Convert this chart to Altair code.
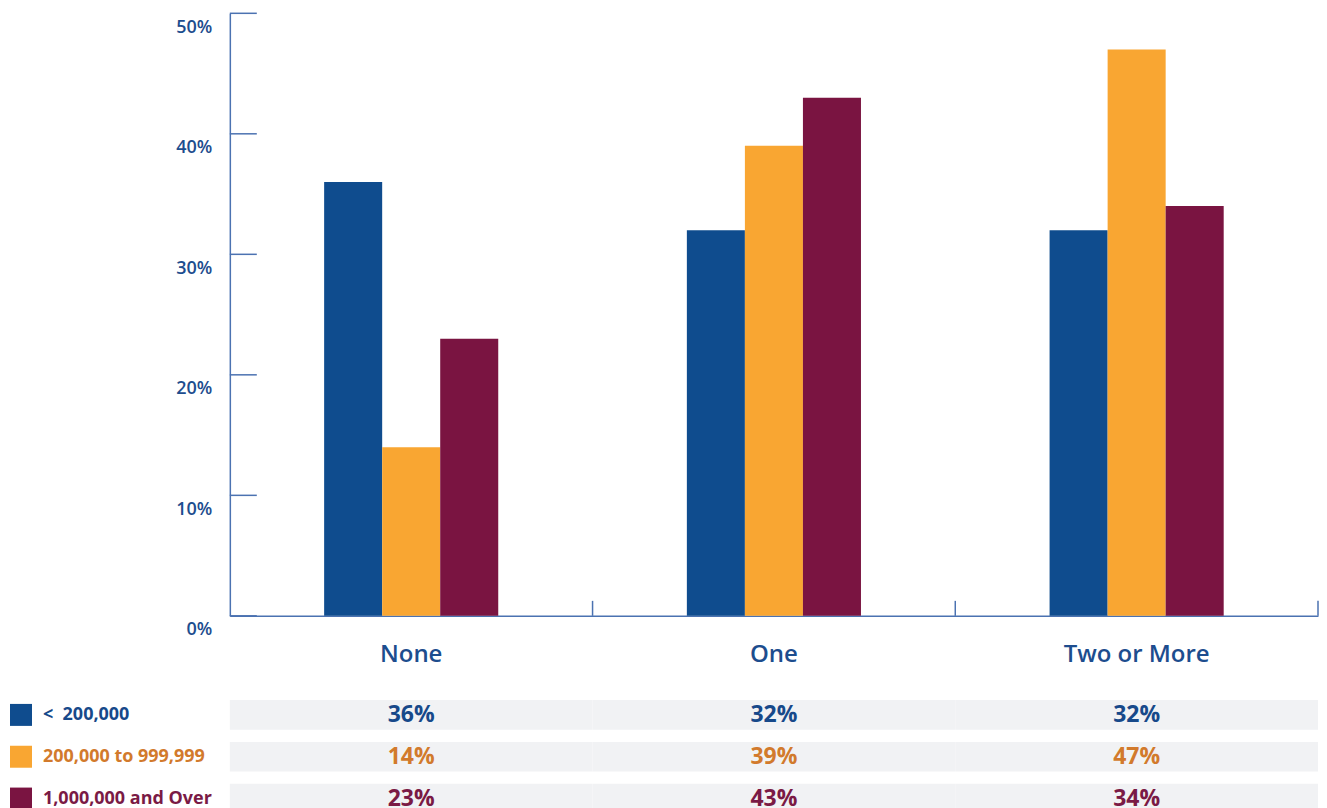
import altair as alt
import pandas as pd

# ---- data ----
categories = ["None", "One", "Two or More"]
series = ["<\u00a0 200,000", "200,000 to 999,999", "1,000,000 and Over"]
values_lt200k = [0.36, 0.32, 0.32]
values_200k_1m = [0.14, 0.39, 0.47]
values_1m_plus = [0.23, 0.43, 0.34]
y_ticks = [0, 0.1, 0.2, 0.3, 0.4, 0.5]

bar_colors = ["#0f4c8e", "#f9a632", "#7a1441"]
text_colors = ["#17498a", "#d27a2c", "#7a1a45"]
axis_color = "#4b72b1"
label_color = "#1d4d8e"
FONT = "Open Sans"

rows = []
for s, vals in zip(series, [values_lt200k, values_200k_1m, values_1m_plus]):
    for c, v in zip(categories, vals):
        rows.append({"category": c, "series": s, "value": v})
df = pd.DataFrame(rows)
ticks_df = pd.DataFrame({"value": y_ticks})
cat_df = pd.DataFrame({"category": categories})
legend_df = pd.DataFrame({"series": series})

W, H = 1089, 603

x_enc = alt.X(
    "category:N", sort=categories,
    scale=alt.Scale(paddingInner=0.52, paddingOuter=0.26),
    axis=alt.Axis(title=None, labelAngle=0, ticks=False, tickSize=0,
                  labelPadding=27, labelFontSize=24, labelFontWeight=600,
                  labelColor=label_color, domainColor=axis_color,
                  domainWidth=1.5, grid=False),
)
y_scale = alt.Scale(domain=[0, 0.5], nice=False)

bars = alt.Chart(df).mark_bar().encode(
    x=x_enc,
    xOffset=alt.XOffset("series:N", sort=series,
                        scale=alt.Scale(paddingInner=0, paddingOuter=0)),
    y=alt.Y("value:Q", scale=y_scale,
            axis=alt.Axis(title=None, values=y_ticks, format="%", ticks=False,
                          tickSize=0, grid=False, labelPadding=18,
                          labelBaseline="top", labelOffset=5,
                          labelFontSize=18, labelFontWeight=600,
                          labelColor=label_color,
                          domainColor=axis_color, domainWidth=1.5)),
    color=alt.Color("series:N", sort=series,
                    scale=alt.Scale(domain=series, range=bar_colors),
                    legend=None),
)

y_tick_rules = alt.Chart(ticks_df).mark_rule(color=axis_color, strokeWidth=1.5).encode(
    y=alt.Y("value:Q", scale=y_scale),
    x=alt.value(0),
    x2=alt.value(27),
)

x_tick_rules = alt.Chart(cat_df).mark_rule(color=axis_color, strokeWidth=1.5).encode(
    x=alt.X("category:N", sort=categories, bandPosition=1,
            scale=alt.Scale(paddingInner=0, paddingOuter=0), axis=None),
    y=alt.value(H - 15),
    y2=alt.value(H),
)

top = alt.layer(bars, y_tick_rules, x_tick_rules).resolve_scale(
    x="independent").properties(width=W, height=H)

# ---- table ----
tx = alt.X("category:N", sort=categories,
           scale=alt.Scale(paddingInner=0, paddingOuter=0), axis=None)
ty = alt.Y("series:N", sort=series,
           scale=alt.Scale(paddingInner=0.29, paddingOuter=0.15), axis=None)

cells = alt.Chart(df).mark_rect(color="#f1f2f4").encode(x=tx, y=ty)
cell_text = alt.Chart(df).mark_text(fontSize=23, fontWeight="bold").encode(
    x=tx, y=ty,
    text=alt.Text("value:Q", format=".0%"),
    color=alt.Color("series:N", sort=series,
                    scale=alt.Scale(domain=series, range=text_colors),
                    legend=None),
)
squares = alt.Chart(legend_df).mark_square(size=484, opacity=1).encode(
    x=alt.value(-209),
    y=ty,
    color=alt.Color("series:N", sort=series,
                    scale=alt.Scale(domain=series, range=bar_colors),
                    legend=None),
)
legend_text = alt.Chart(legend_df).mark_text(
    align="left", fontSize=18, fontWeight="bold").encode(
    x=alt.value(-187),
    y=ty,
    text="series:N",
    color=alt.Color("series:N", sort=series,
                    scale=alt.Scale(domain=series, range=text_colors),
                    legend=None),
)

table = alt.layer(cells, cell_text, squares, legend_text).resolve_scale(
    color="independent").properties(width=W, height=126)

chart = alt.vconcat(top, table, spacing=78, bounds="flush").resolve_scale(
    color="independent", x="independent", y="independent"
).properties(
    padding={"left": 2, "top": 4, "right": 0, "bottom": 0}
).configure(font=FONT).configure_view(stroke=None)

chart.save("out.html", embed_options={"renderer": "svg", "actions": False})
